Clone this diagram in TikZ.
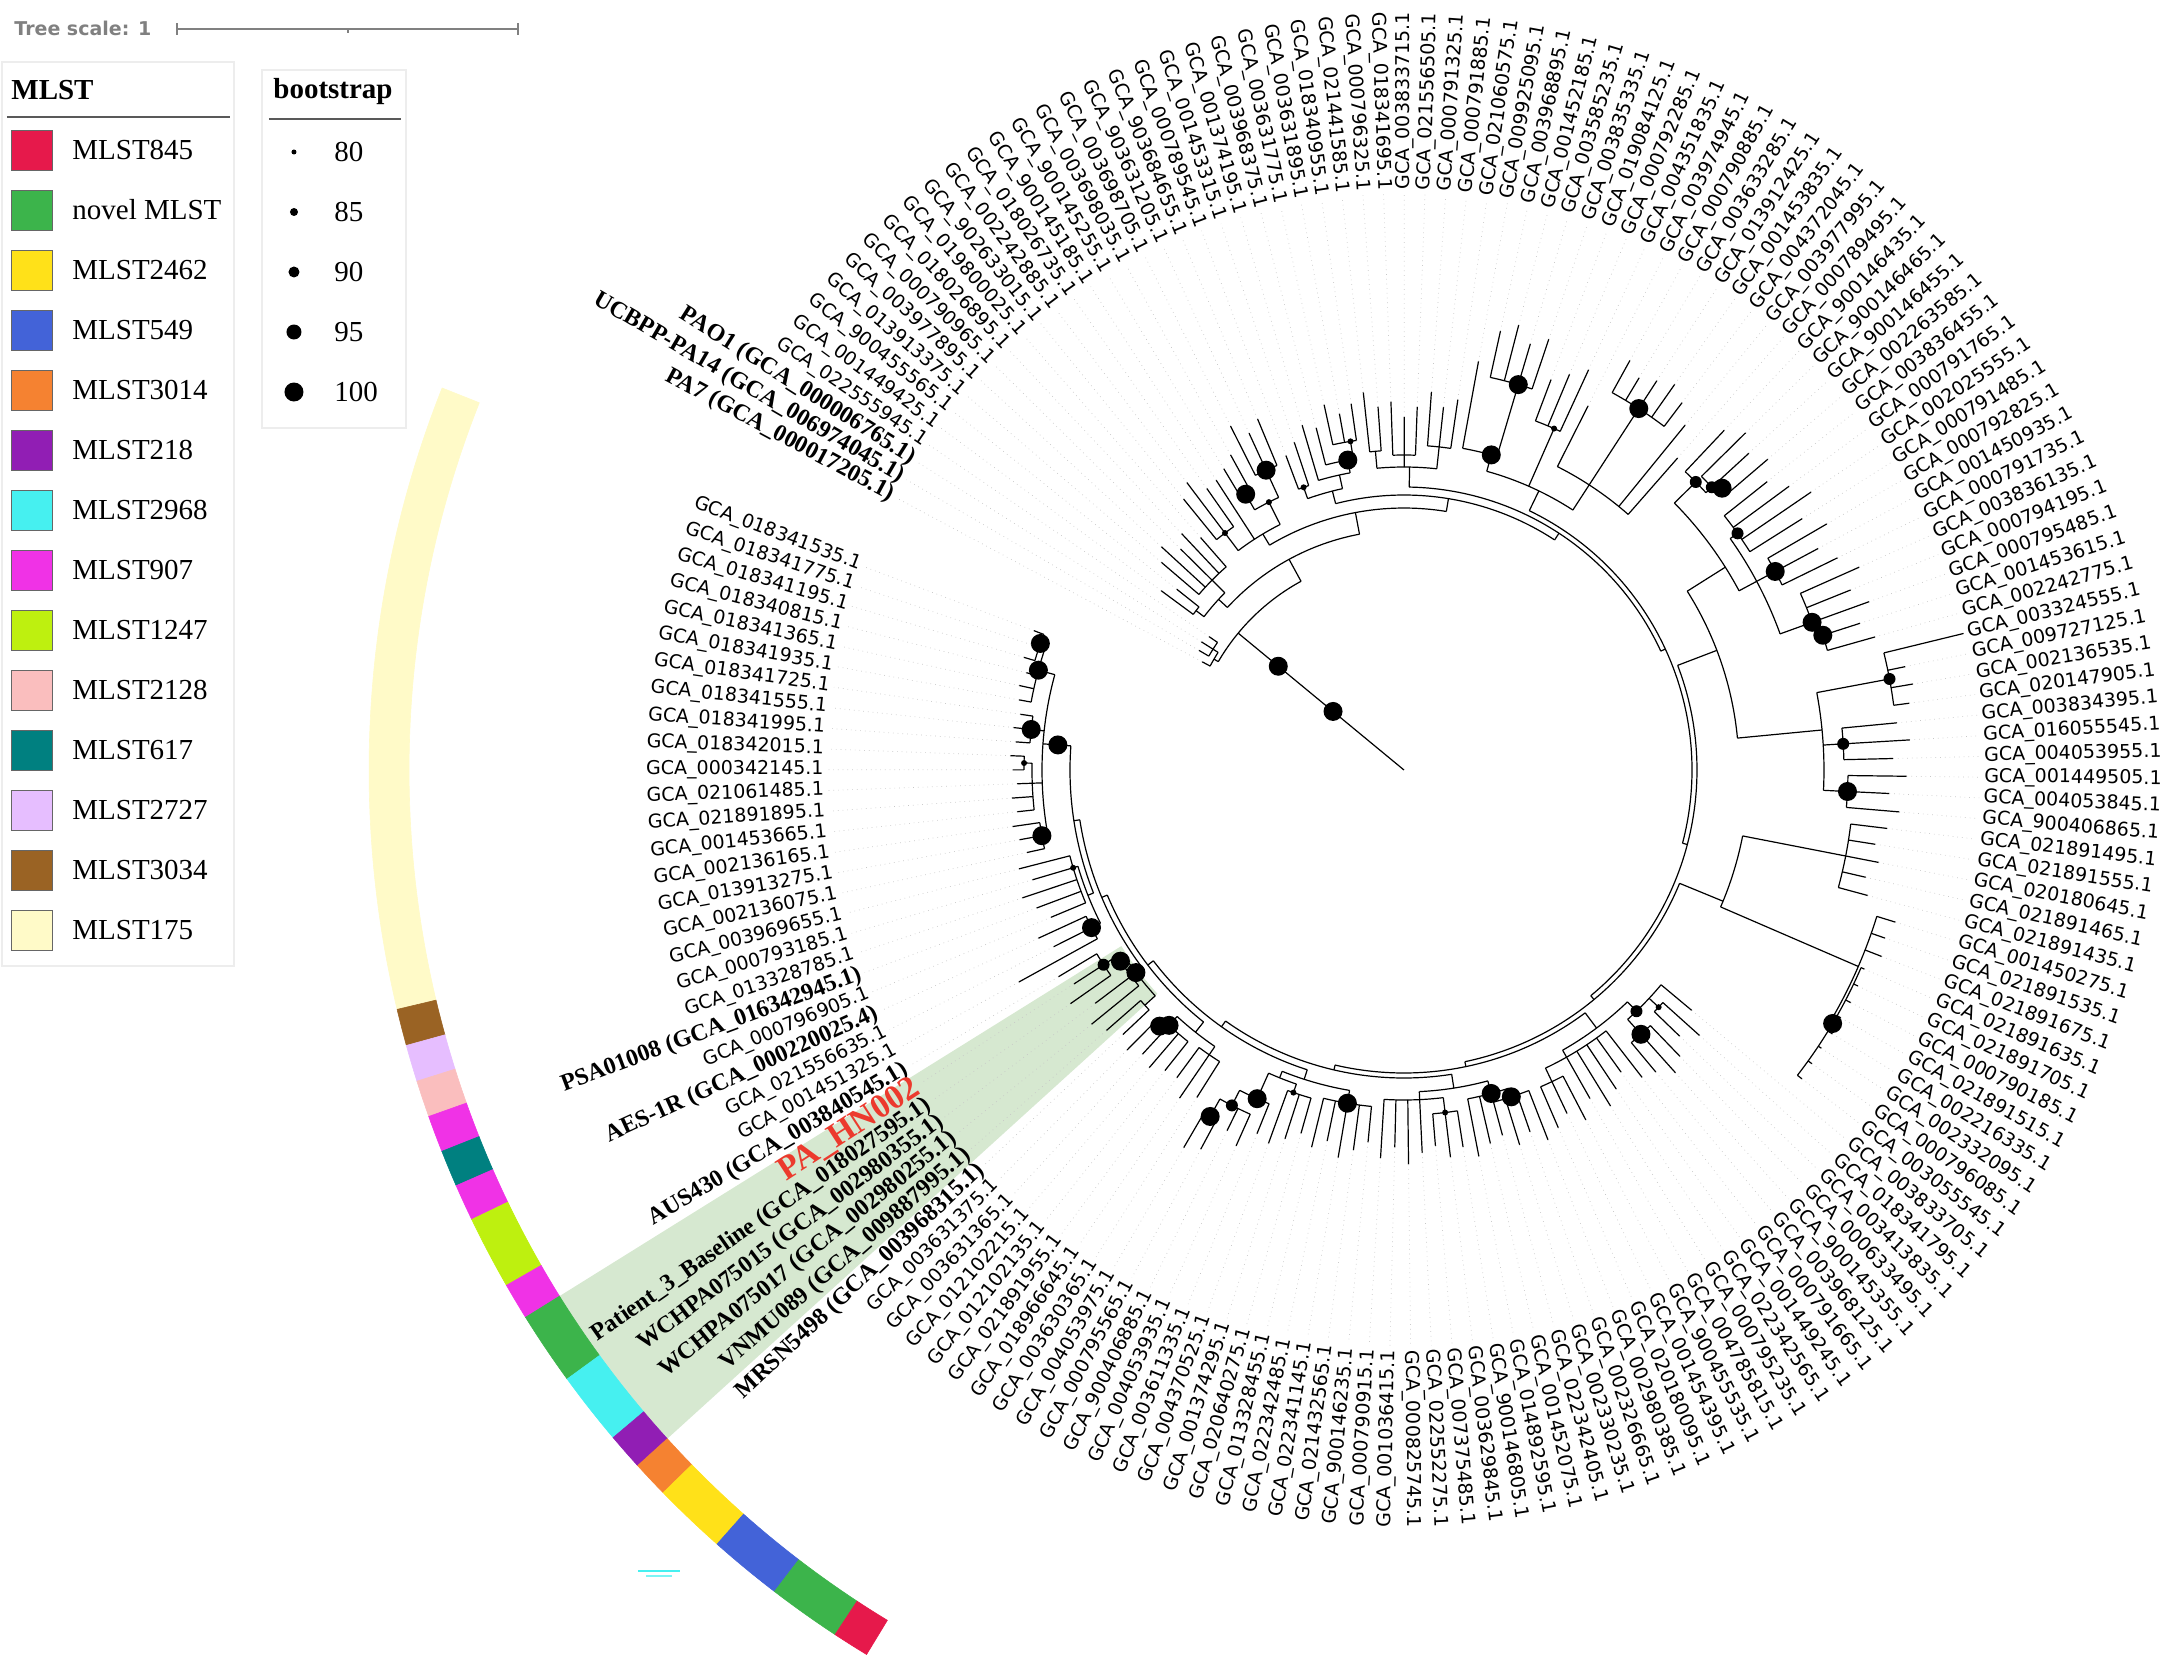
\documentclass[tikz,border=0pt]{standalone}
\usepackage{fontspec}
\setmainfont{Liberation Serif}
\newfontfamily\tipfont{DejaVu Sans}

\definecolor{st845}{RGB}{230,25,75}
\definecolor{stnovel}{RGB}{60,180,75}
\definecolor{st2462}{RGB}{255,225,25}
\definecolor{st549}{RGB}{67,99,216}
\definecolor{st3014}{RGB}{245,130,49}
\definecolor{st218}{RGB}{145,30,180}
\definecolor{st2968}{RGB}{70,240,240}
\definecolor{st907}{RGB}{240,50,230}
\definecolor{st1247}{RGB}{190,240,15}
\definecolor{st2128}{RGB}{250,190,190}
\definecolor{st617}{RGB}{0,128,128}
\definecolor{st2727}{RGB}{230,190,255}
\definecolor{st3034}{RGB}{154,99,36}
\definecolor{st175}{RGB}{255,250,200}
\definecolor{hlgreen}{RGB}{214,232,208}
\definecolor{hnred}{RGB}{236,58,45}

% angle of leaf number #1
\newcommand{\ang}[1]{(151.8-2.061*(#1))}

\begin{document}
\begin{tikzpicture}[x=0.5pt,y=0.5pt,
    branch/.style={line width=0.6pt},
    guideline/.style={black!22,line width=0.35pt,dotted},
    leaflbl/.style={inner sep=0pt,font=\tipfont\fontsize{9.5}{11}\selectfont},
    strainlbl/.style={inner sep=0pt,font=\fontsize{12}{14}\selectfont\bfseries},
    legendtxt/.style={inner sep=0pt,anchor=west,font=\fontsize{14.5}{16}\selectfont},
    legendbox/.style={draw=black!7,line width=0.8pt}]
  \useasboundingbox (-1404,-886) rectangle (771,770);

  % highlighted clade
  \fill[hlgreen] ({\ang{146}+1.03}:333) arc[start angle={\ang{146}+1.03},end angle={\ang{140}-1.03},radius=333]
    -- ({\ang{140}-1.03}:995) arc[start angle={\ang{140}-1.03},end angle={\ang{146}+1.03},radius=995] -- cycle;

  % tree: arc ends, stem, parent radius, radius, bootstrap dot
  \foreach \na/\nb/\ns/\np/\nr/\nd in {
      1/16.1/5.5/0/215/0, 7/24.8/16.1/215/240/0, 15/34.5/24.8/240/262/0, 23/46.1/34.5/262/275/0,
      30.5/61.6/46.1/275/283/0, 42.5/80.8/61.6/283/288/0, 63.5/98.1/80.8/288/293/0, 84.5/111.6/98.1/293/298/0,
      99.5/123.7/111.6/298/303/0, 113/134.5/123.7/303/308/0, 126/142.9/134.5/308/315/0, 136/149.9/142.9/315/322/0,
      143/156.75/149.9/322/328/0, 150.5/163/156.75/328/334/0,
      0/2/1/215/220/0, 1/3/2/220/226/0,
      4.5/8/7/240/252/0, 4/5/4.5/252/262/0, 6/10/8/252/270/0,
      12/17/15/262/275/0, 11/13/12/275/297/3, 15.5/18/17/275/300/3, 15/16/15.5/300/318/9.5, 17/19/18/300/330/9.5,
      20.5/24/23/275/288/0, 20/21/20.5/288/300/3, 22/25/24/288/302/0, 23/25.5/25/302/315/9.5, 24/26/25.5/315/333/3,
      27.5/33/30.5/283/303/0, 27/28/27.5/303/320/0, 29/31/30/303/315/0, 32/34/33/303/325/0,
      37.5/46/42.5/288/310/0, 35/38/37.5/310/327/9.5, 36/39/38/327/402/9.5, 40/42/41.5/310/373/3,
      43/50/46/310/340/0, 44/48/46/340/431/9.5,
      58/71/63.5/293/335/0, 52/60/58/335/380/0, 51/53/52/380/410/6, 52/53.5/53/410/418/6, 53/54/53.5/418/425/9.5,
      56.5/64/60/380/400/0, 55/58/56.5/400/409/6, 59/61/60/400/421/9.5, 62/65/64/400/434/9.5, 64/66/65/434/440/9.5,
      68.5/75/71/335/420/0, 67/70/68.5/420/494/6, 71/73/72/420/440/6, 74/76/75/420/444/9.5,
      79/85/84.5/298/345/0, 77/81/79/345/450/0, 82/88.5/85/345/495/0, 85/92/88.5/495/498/9.5,
      96/103/99.5/303/322/0, 93/97/96/322/335/6, 94/95/94.5/335/348/3, 96/98/97/335/355/9.5,
      99/105/103/322/330/0, 104/106/105/330/345/0,
      110/116/113/308/322/0, 108.5/112/110/322/335/9.5, 107/110/108.5/335/344/9.5, 114/119/116/322/330/0,
      113/115/114/330/345/3,
      122/128/126/315/325/0, 120/124/122/325/338/9.5, 126.5/129/128/325/332/0, 125/127/126.5/332/341/3,
      128/130.5/129/332/360/9.5, 129/131.5/130.5/360/377/6, 131/132/131.5/377/397/9.5,
      134/138/136/322/335/0, 133/135/134/335/345/0, 136/138.5/138/335/347/9.5, 138/139/138.5/347/354/9.5,
      140.5/144.5/143/328/336/9.5, 140/141/140.5/336/350/0, 142/145/144.5/336/342/9.5, 144/146/145/342/358/6,
      148/153/150.5/334/340/0, 147/149/148/340/350/9.5, 150/154/153/340/345/3,
      156/168.4/163/334/362/0, 155/157/156/362/368/9.5, 158/161.5/160/362/372/0, 161/162/161.5/372/380/3,
      163/165/164/362/375/9.5, 166/170.3/168.4/362/379/9.5, 169/171/170.3/379/385/9.5}{
    \draw[branch] ({\ang{\ns}}:\np) -- ({\ang{\ns}}:\nr);
    \draw[branch] ({\ang{\na}}:\nr) arc[start angle={\ang{\na}},end angle={\ang{\nb}},radius=\nr];
    \ifdim\nd pt>0pt \fill ({\ang{\ns}}:\nr) circle (\nd); \fi
  }
  \foreach \ns/\nr in {5.5/92,5.5/163,163/347}
    \fill ({\ang{\ns}}:\nr) circle (9.5);

  % leaves and dotted guides
  \foreach \la/\lb/\lr/\lt in {
      0/0/220/232, 1/3/226/238, 4/5/262/300, 6/10/270/322,
      11/13/297/352, 14/14/275/342, 15/16/318/362, 17/19/330/378,
      20/21/300/348, 22/22/302/352, 23/23/315/360, 24/26/333/372,
      27/28/320/372, 29/31/315/366, 32/34/325/372,
      35/35/327/445, 36/39/402/452, 40/42/373/432, 43/43/340/420, 44/48/431/466, 49/50/340/440,
      51/51/410/470, 52/52/418/472, 53/54/425/476, 55/58/409/482, 59/61/421/486, 62/63/434/490,
      64/66/440/492, 67/67/494/600, 68/70/494/515, 71/73/440/498, 74/76/444/500,
      77/81/450/482, 82/84/495/512, 85/92/498/503,
      93/93/335/382, 94/95/348/395, 96/98/355/400, 99/103/330/386, 104/106/345/392,
      107/110/344/390, 111/112/335/386, 113/115/345/388, 116/119/330/386,
      120/124/338/386, 125/127/341/390, 128/128/360/398, 129/130/377/410, 131/132/397/432,
      133/135/345/395, 136/137/347/386, 138/139/354/392,
      140/141/350/398, 142/143/342/395, 144/146/358/405,
      147/147/350/428, 148/149/350/400, 150/154/345/395,
      155/157/368/392, 158/160/372/392, 161/162/380/392, 163/165/375/392, 166/168/379/392, 169/171/385/396}{
    \foreach \i in {\la,...,\lb}{
      \pgfmathsetmacro\tp{min(\lr+(\lt-\lr)*(0.75+0.1*mod(\i*7,5)),576)}
      \draw[branch] ({\ang{\i}}:\lr) -- ({\ang{\i}}:\tp);
      \draw[guideline] ({\ang{\i}}:\tp) -- ({\ang{\i}}:576);
    }
  }

  % leaf labels (0 = labelled below)
  \foreach \num [count=\i from 0] in {0,0,0,022555945,001449425,900455565,013913375,003977895,000790965,018026895,
      019800025,902633015,002242885,018026735,900145185,900145255,003698035,003698705,903631205,903684655,
      000789545,001453315,001374195,003968375,003631775,003631895,018340955,021441585,000796325,018341695,
      003833715,021556505,000791325,000791885,021060575,009925095,003968895,001452185,003585235,003835335,
      019084125,000792285,004351835,003974945,000790885,003633285,013912425,001453835,004372045,003977995,
      000789495,900146435,900146465,900146455,002263585,003836455,000791765,002025555,000791485,000792825,
      001450935,000791735,003836135,000794195,000795485,001453615,002242775,003324555,009727125,002136535,
      020147905,003834395,016055545,004053955,001449505,004053845,900406865,021891495,021891555,020180645,
      021891465,021891435,001450275,021891535,021891675,021891635,021891705,000790185,021891515,002216335,
      002332095,000796085,003055545,003833705,018341795,003413835,000633495,900145355,003968125,000791665,
      001449245,022342565,000795235,004785815,900455535,001454395,020180095,002980385,002326665,002330235,
      022342405,001452075,014892595,900146805,003629845,007375485,022552275,000825745,001036415,000790915,
      900146235,021432565,022341145,022342485,013328455,020640275,001374295,004370525,003611335,004053935,
      900406885,000795565,004053975,003630365,018966645,021891955,012102135,012102215,003631365,003631375,
      0,0,0,0,0,0,0,001451325,021556635,0,
      000796905,0,013328785,000793185,003969655,002136075,013913275,002136165,001453665,021891895,
      021061485,000342145,018342015,018341995,018341555,018341725,018341935,018341365,018340815,018341195,
      018341775,018341535}{
    \ifnum\num=0\relax\else
      \pgfmathsetmacro\th{151.8-2.061*\i}
      \pgfmathtruncatemacro\lft{cos(\th)<0}
      \ifnum\lft=1
        \node[leaflbl,anchor=east,rotate=\th+180] (lbl\i) at (\th:580) {GCA\_\num.1};
      \else
        \node[leaflbl,anchor=west,rotate=\th] (lbl\i) at (\th:580) {GCA\_\num.1};
      \fi
    \fi
  }
  \foreach \i/\txt in {0/PA7 (GCA\_000017205.1), 1/UCBPP-PA14 (GCA\_006974045.1), 2/PAO1 (GCA\_000006765.1),
      140/MRSN5498 (GCA\_003968315.1), 141/VNMU089 (GCA\_009887995.1), 142/WCHPA075017 (GCA\_002980255.1),
      143/WCHPA075015 (GCA\_002980355.1), 144/Patient\_3\_Baseline (GCA\_018027595.1),
      146/AUS430 (GCA\_003840545.1), 149/AES-1R (GCA\_000220025.4), 151/PSA01008 (GCA\_016342945.1)}{
    \pgfmathsetmacro\th{151.8-2.061*\i}
    \node[strainlbl,anchor=east,rotate=\th+180] (strain\i) at (\th:580) {\txt};
  }
  \node[strainlbl,anchor=east,rotate={\ang{145}+180},text=hnred,font=\fontsize{17}{19}\selectfont\bfseries]
    (hn002) at ({\ang{145}}:580) {PA\_HN002};

  % MLST strip
  \foreach \sa/\sb/\col in {155/171/st175, 154/154/st3034, 153/153/st2727, 152/152/st2128, 151/151/st907,
      150/150/st617, 149/149/st907, 147/148/st1247, 146/146/st907, 144/145/stnovel, 142/143/st2968,
      141/141/st218, 140/140/st3014, 138/139/st2462, 136/137/st549, 134/135/stnovel, 133/133/st845}{
    \filldraw[fill=\col,draw=\col,line width=0.3pt] ({\ang{\sb}-1.03}:995)
      arc[start angle={\ang{\sb}-1.03},end angle={\ang{\sa}+1.03},radius=995]
      -- ({\ang{\sa}+1.03}:1035) arc[start angle={\ang{\sa}+1.03},end angle={\ang{\sb}-1.03},radius=1035] -- cycle;
  }
  \draw[st2968,line width=0.8pt] (-766,-801) -- (-724,-801);
  \draw[st2968!70,line width=0.6pt] (-758,-806) -- (-732,-806);

  % tree scale
  \node[anchor=west,inner sep=0pt,text=black!50,font=\tipfont\bfseries\fontsize{9.5}{11}\selectfont]
    (treescale) at (-1390,742) {Tree scale: 1};
  \draw[black!50,line width=0.6pt] (-1227,741) -- (-886,741) (-1227,735) -- (-1227,747)
    (-886,735) -- (-886,747) (-1056,741) -- (-1056,737);

  % legend MLST
  \draw[legendbox] (-1402,708) rectangle (-1170,-196);
  \node[legendtxt,font=\fontsize{14.5}{16}\selectfont\bfseries] (mlsttitle) at (-1393,680) {MLST};
  \draw[black!65,line width=0.8pt] (-1397,653) -- (-1174,653);
  \foreach \col/\txt [count=\k from 0] in {st845/MLST845, stnovel/novel MLST, st2462/MLST2462, st549/MLST549,
      st3014/MLST3014, st218/MLST218, st2968/MLST2968, st907/MLST907, st1247/MLST1247, st2128/MLST2128,
      st617/MLST617, st2727/MLST2727, st3034/MLST3034, st175/MLST175}{
    \filldraw[fill=\col,draw=black!60,line width=0.4pt] (-1393,{600-60*\k}) rectangle (-1352,{640-60*\k});
    \node[legendtxt] (mlst\k) at (-1332,{620-60*\k}) {\txt};
  }

  % legend bootstrap
  \draw[legendbox] (-1142,700) rectangle (-998,342);
  \node[legendtxt,font=\fontsize{14.5}{16}\selectfont\bfseries] (boottitle) at (-1131,678) {bootstrap};
  \draw[black!65,line width=0.8pt] (-1135,651) -- (-1003,651);
  \foreach \v/\rr [count=\k from 0] in {80/2.5,85/4,90/5.5,95/7.5,100/9.5}{
    \fill (-1110,{618-60*\k}) circle (\rr);
    \node[legendtxt] (boot\v) at (-1070,{618-60*\k}) {\v};
  }
\end{tikzpicture}
\end{document}
